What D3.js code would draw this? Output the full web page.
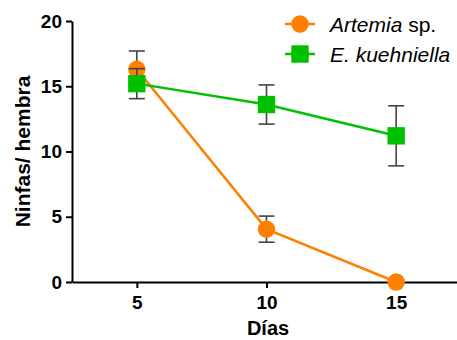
<!DOCTYPE html>
<html><head><meta charset="utf-8">
<script src="https://cdn.jsdelivr.net/npm/d3@7"></script>
<style>body{margin:0;background:#fff}svg{display:block}</style>
</head><body>
<script>
const days = [5, 10, 15];
const artemiaMean = [16.3, 4.05, 0];
const artemiaErr = [1.4, 1.0, 0];
const kuehniellaMean = [15.2, 13.6, 11.2];
const kuehniellaErr = [1.15, 1.5, 2.3];
const yTicks = [0, 5, 10, 15, 20];
const xTicks = [5, 10, 15];
const seriesNames = ["Artemia", "E. kuehniella"];

const W = 457, H = 340;
const svg = d3.select("body").append("svg").attr("width", W).attr("height", H);
const x = d3.scaleLinear().domain([2.5, 17.5]).range([72, 461]);
const y = d3.scaleLinear().domain([0, 20]).range([282, 21]);
const font = "Liberation Sans, Arial, Helvetica, sans-serif";

const series = [
  {name: seriesNames[0], mean: artemiaMean, err: artemiaErr, color: "#FF8000", shape: "circle"},
  {name: seriesNames[1], mean: kuehniellaMean, err: kuehniellaErr, color: "#00C000", shape: "square"}
];

// axes
const xAxis = svg.append("g").attr("transform", `translate(0,${y(0)})`)
  .call(d3.axisBottom(x).tickValues(xTicks).tickSize(6).tickPadding(8).tickSizeOuter(0));
const yAxis = svg.append("g").attr("transform", `translate(${x(2.5)},0)`)
  .call(d3.axisLeft(y).tickValues(yTicks).tickSize(6).tickPadding(4).tickSizeOuter(0));
[xAxis, yAxis].forEach(a => {
  a.select(".domain").attr("stroke", "#000").attr("stroke-width", 2);
  a.selectAll(".tick line").attr("stroke", "#000").attr("stroke-width", 2);
  a.selectAll(".tick text").attr("fill", "#000").style("font-family", font)
    .style("font-size", "19px").style("font-weight", "bold");
});

svg.append("text").attr("x", 268).attr("y", 335).attr("text-anchor", "middle")
  .style("font-family", font).style("font-size", "20px").style("font-weight", "bold").text("Días");
svg.append("text").attr("transform", `translate(30,${(21 + 282) / 2}) rotate(-90)`)
  .attr("text-anchor", "middle")
  .style("font-family", font).style("font-size", "21px").style("font-weight", "bold").text("Ninfas/ hembra");

const line = d3.line().x(d => x(d[0])).y(d => y(d[1]));

function marker(g, shape, cx, cy, color) {
  if (shape === "circle") {
    g.append("circle").attr("cx", cx).attr("cy", cy).attr("r", 8.7).attr("fill", color);
  } else {
    g.append("rect").attr("x", cx - 8.7).attr("y", cy - 8.7).attr("width", 17.4).attr("height", 17.4).attr("fill", color);
  }
}

series.forEach(s => {
  const g = svg.append("g");
  const pts = days.map((d, i) => [d, s.mean[i]]);
  g.append("path").attr("d", line(pts)).attr("fill", "none").attr("stroke", s.color).attr("stroke-width", 2.5);
  days.forEach((d, i) => {
    if (s.err[i] > 0) {
      const cx = x(d), y1 = y(s.mean[i] + s.err[i]), y2 = y(s.mean[i] - s.err[i]);
      g.append("line").attr("x1", cx).attr("x2", cx).attr("y1", y1).attr("y2", y2).attr("stroke", "#444").attr("stroke-width", 1.6);
      [y1, y2].forEach(yy => g.append("line").attr("x1", cx - 8).attr("x2", cx + 8).attr("y1", yy).attr("y2", yy)
        .attr("stroke", "#444").attr("stroke-width", 1.6));
    }
  });
  days.forEach((d, i) => marker(g, s.shape, x(d), y(s.mean[i]), s.color));
});

// legend
const leg = svg.append("g");
series.forEach((s, i) => {
  const ly = 24 + i * 30;
  leg.append("line").attr("x1", 285).attr("x2", 315).attr("y1", ly).attr("y2", ly).attr("stroke", s.color).attr("stroke-width", 2.5);
  marker(leg, s.shape, 300, ly, s.color);
  const t = leg.append("text").attr("x", 330).attr("y", ly + 7.5)
    .style("font-family", font).style("font-size", "21px").attr("fill", "#000");
  if (i === 0) {
    t.append("tspan").style("font-style", "italic").text("Artemia");
    t.append("tspan").text(" sp.");
  } else {
    t.append("tspan").style("font-style", "italic").text("E. kuehniella");
  }
});
</script>
</body></html>
